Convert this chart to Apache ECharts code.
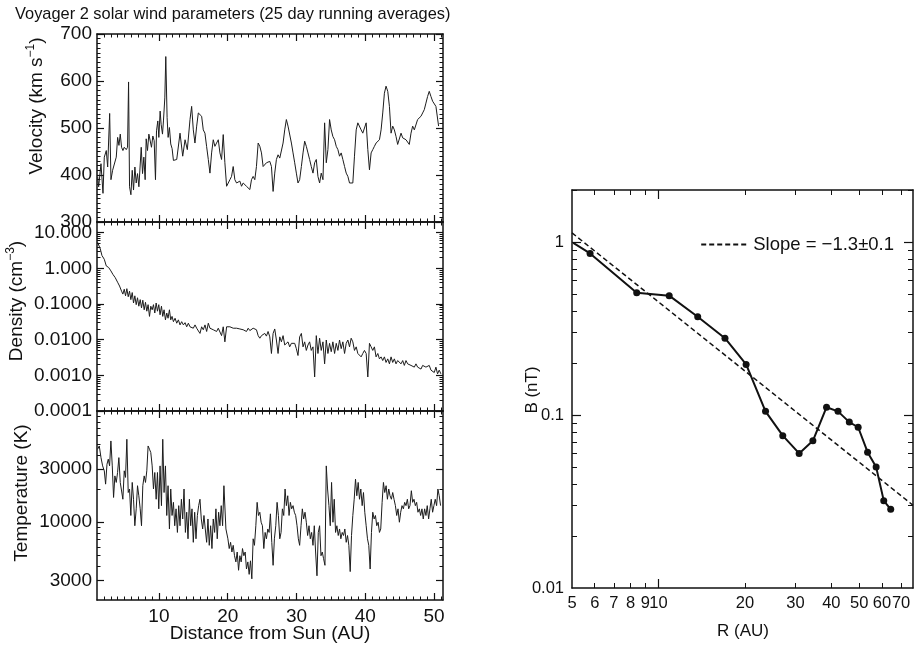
<!DOCTYPE html>
<html>
<head>
<meta charset="utf-8">
<title>Voyager 2 solar wind parameters</title>
<script src="https://cdn.jsdelivr.net/npm/echarts@6/dist/echarts.min.js"></script>
<style>
  html, body { margin: 0; padding: 0; background: #fff; }
  #main { width: 921px; height: 650px; }
</style>
</head>
<body>
<div id="main"></div>
<script>
// velocity, km/s, against distance (AU)
var velDist = [1.10,1.24,1.58,1.87,2.06,2.35,2.55,2.84,3.03,3.27,
  3.51,3.80,4.00,4.19,4.38,4.57,4.77,4.96,5.25,5.44,
  5.59,5.73,5.93,6.12,6.31,6.51,6.70,6.89,7.09,7.28,
  7.43,7.62,7.81,8.00,8.15,8.34,8.54,8.73,8.92,9.12,
  9.31,9.50,9.65,9.84,9.99,10.18,10.32,10.52,10.66,10.86,
  11.00,11.19,11.34,11.53,11.72,11.92,12.11,
  12.59,13.07,13.46,13.80,14.13,14.52,14.76,15.00,15.24,15.49,
  15.73,15.97,16.21,16.45,16.69,16.93,17.18,17.42,17.66,17.90,
  18.14,18.38,18.63,18.87,
  19.11,19.35,19.59,19.84,20.08,20.32,20.56,20.80,21.04,21.29,
  21.53,21.77,22.01,22.25,22.49,22.73,22.98,23.22,23.46,23.70,
  23.94,24.18,24.43,24.67,24.91,25.15,25.39,25.63,25.87,26.12,
  26.36,26.60,26.84,27.08,27.32,27.57,27.81,28.05,28.29,28.53,
  28.77,29.01,29.26,29.50,29.74,29.98,30.22,30.46,30.71,30.95,
  31.19,31.43,31.67,31.91,32.15,32.40,32.64,32.88,33.12,33.36,
  33.60,33.85,34.09,34.33,34.57,34.81,35.05,35.29,35.54,35.78,
  36.02,36.26,36.50,36.74,36.99,37.23,37.47,37.71,37.95,38.19,
  38.43,38.68,38.92,39.16,39.40,39.64,39.88,40.13,40.37,40.61,
  40.85,41.09,41.33,41.57,41.82,42.06,42.30,42.54,42.78,43.02,
  43.27,43.51,43.75,43.99,44.23,44.47,44.71,44.96,45.20,45.44,
  45.68,45.92,46.16,46.40,46.65,46.89,47.13,47.37,47.61,47.86,
  48.10,48.34,48.58,48.82,49.06,49.30,49.55,49.79,50.03,50.27,
  50.51,50.66];
var velKms = [396,375,424,361,438,452,417,531,390,410,
  407,438,480,463,487,459,452,459,454,459,
  598,375,358,410,368,417,383,403,375,375,
  459,403,438,390,477,452,487,483,459,483,
  473,390,494,515,480,536,508,487,515,564,
  652,522,480,501,466,456,431,
  433,489,440,475,454,518,546,496,468,504,
  532,535,525,496,489,461,433,404,447,475,
  461,468,475,447,
  433,486,426,376,379,390,397,418,390,383,
  379,387,376,383,379,376,372,369,390,397,
  390,418,468,461,447,418,418,426,422,429,
  418,365,404,433,443,436,440,468,496,518,
  504,500,468,447,426,404,383,390,418,447,
  472,461,447,433,418,404,426,433,397,383,
  404,390,511,426,454,518,496,482,475,461,
  454,440,447,433,418,404,397,383,379,383,
  440,496,511,511,496,489,489,511,454,411,
  447,454,461,468,465,475,496,532,574,589,
  578,546,489,504,496,482,465,468,489,479,
  482,475,479,465,489,504,496,500,518,521,
  525,532,539,553,567,578,567,557,553,546,
  546,504];

// density, cm^-3
var denDist = [1.09,1.48,1.72,2.06,2.35,2.69,3.02,3.31,3.65,3.99,4.28,4.57,
  4.76,4.96,5.15,5.34,5.54,5.73,5.92,6.12,6.31,6.50,
  6.70,6.89,7.08,7.28,7.47,7.66,7.86,8.05,8.24,8.43,
  8.63,8.82,9.02,9.21,9.40,9.60,9.79,9.98,10.17,10.37,
  10.56,10.75,10.95,11.14,11.33,11.53,11.72,11.91,12.11,
  12.35,12.59,12.83,13.07,13.31,13.56,13.80,14.04,14.28,14.52,
  14.76,15.00,15.25,15.49,15.73,15.97,16.21,16.45,16.70,16.94,
  17.18,17.42,17.66,17.90,18.15,18.39,18.63,
  18.87,
  19.11,19.35,19.59,19.84,20.08,20.32,20.56,20.80,21.04,21.29,
  21.53,21.77,22.01,22.25,22.49,22.73,22.98,23.22,23.46,23.70,
  23.94,24.18,24.43,24.67,24.91,25.15,25.39,25.63,25.87,26.12,
  26.36,26.60,26.84,27.08,27.32,27.57,27.81,28.05,28.29,28.53,
  28.77,29.01,29.26,29.50,29.74,29.98,30.22,30.46,30.71,30.95,
  31.19,31.43,31.67,31.91,32.15,32.40,32.64,32.88,33.12,33.36,
  33.60,33.85,34.09,34.33,34.57,34.81,35.05,35.29,35.54,35.78,
  36.02,36.26,36.50,36.74,36.99,37.23,37.47,37.71,37.95,38.19,
  38.43,38.68,38.92,39.16,39.40,39.64,39.88,40.13,40.37,40.61,
  40.85,41.09,41.33,41.57,41.82,42.06,42.30,42.54,42.78,43.02,
  43.27,43.51,43.75,43.99,44.23,44.47,44.71,44.96,45.20,45.44,
  45.68,45.92,46.16,46.40,46.65,46.89,47.13,47.37,47.61,47.86,
  48.10,48.34,48.58,48.82,49.06,49.30,49.55,49.79,50.03,50.27,
  50.51,50.75,51.00];
var denCm3 = [5.4,3.5,2.3,1.8,1.17,1.06,0.85,0.68,0.55,0.41,0.32,0.23,
  0.19,0.26,0.17,0.27,0.16,0.23,0.133,0.21,0.107,0.17,
  0.096,0.15,0.087,0.133,0.078,0.128,0.069,0.112,0.063,0.096,
  0.045,0.087,0.069,0.096,0.056,0.107,0.063,0.096,0.05,0.087,
  0.045,0.069,0.036,0.056,0.04,0.069,0.036,0.045,0.032,
  0.04,0.029,0.036,0.026,0.032,0.026,0.030,0.023,0.029,0.023,
  0.026,0.021,0.026,0.021,0.023,0.015,0.023,0.019,0.026,0.017,
  0.029,0.021,0.023,0.019,0.021,0.017,0.021,
  0.019,0.013,0.023,0.0087,0.023,0.026,0.023,0.026,0.021,0.023,
  0.021,0.023,0.020,0.022,0.019,0.021,0.017,0.021,0.018,0.020,
  0.021,0.023,0.019,0.013,0.011,0.013,0.012,0.015,0.0126,0.017,
  0.012,0.0041,0.015,0.020,0.0098,0.0041,0.012,0.0087,0.013,0.0071,
  0.0063,0.0087,0.0063,0.0079,0.0071,0.0079,0.0056,0.0036,0.012,0.015,
  0.0063,0.0087,0.005,0.0071,0.0087,0.005,0.0063,0.0009,0.013,0.0041,
  0.011,0.005,0.0087,0.0021,0.0098,0.0041,0.0079,0.0046,0.0087,0.0041,
  0.0079,0.005,0.0098,0.0056,0.0087,0.0041,0.0079,0.0098,0.0063,0.011,
  0.0087,0.005,0.0063,0.0041,0.0046,0.0033,0.0041,0.005,0.0041,0.0009,
  0.0079,0.0063,0.005,0.0063,0.0033,0.0041,0.0029,0.0033,0.0026,0.0033,
  0.0023,0.0029,0.0021,0.0033,0.0023,0.0029,0.0021,0.0026,0.0029,0.0021,
  0.0026,0.0019,0.0026,0.0021,0.0023,0.0019,0.0021,0.0017,0.0021,0.0017,
  0.0019,0.0015,0.0019,0.0021,0.0017,0.0015,0.0019,0.0014,0.0015,0.0012,
  0.0017,0.0011,0.0014,0.0011];

// temperature, K
var tempDist = [1.09,1.33,1.58,1.82,2.06,
  2.25,2.45,2.64,2.83,3.02,3.22,3.41,3.60,3.80,3.99,
  4.18,4.38,4.57,4.76,4.96,5.15,5.34,5.54,5.73,5.92,
  6.12,6.31,6.50,6.70,6.89,7.08,7.28,7.47,7.66,7.86,
  8.05,8.24,8.43,8.63,8.82,9.02,9.21,9.40,9.60,9.79,
  9.98,10.17,10.37,10.56,10.75,10.95,11.14,11.33,11.53,11.72,
  11.91,12.11,12.30,12.49,12.69,12.88,13.07,13.27,13.46,13.65,
  13.85,14.04,14.23,14.43,14.62,14.81,15.00,15.20,15.39,15.59,
  15.78,15.97,16.16,16.36,16.55,16.74,16.94,17.13,17.32,17.52,
  17.71,17.90,18.10,18.29,18.48,18.68,18.87,19.06,19.26,
  19.45,19.74,20.03,
  20.22,20.42,20.61,20.80,20.99,21.19,21.38,21.58,21.77,21.96,
  22.15,22.35,22.54,22.73,22.93,23.12,23.31,23.51,23.70,23.89,
  24.09,24.28,24.47,24.67,24.86,25.05,25.25,25.44,25.63,25.83,
  26.02,26.21,26.41,26.60,26.79,26.99,27.18,27.37,27.57,27.76,
  27.95,28.15,28.34,28.53,28.73,28.92,29.11,29.30,29.50,29.69,
  29.88,30.08,30.27,30.46,30.66,30.85,31.04,31.24,31.43,31.62,
  31.82,32.01,32.20,32.40,32.59,32.78,32.98,33.17,33.36,33.56,
  33.75,33.94,34.14,34.33,34.52,34.72,34.91,35.10,35.30,35.49,
  35.68,35.87,36.07,36.26,36.45,36.65,36.84,37.03,37.23,37.42,
  37.61,37.81,38.00,38.19,38.39,38.58,38.77,38.97,39.16,39.35,
  39.55,39.74,39.93,40.13,40.32,40.51,40.71,40.90,41.09,41.29,
  41.48,41.67,41.87,42.06,42.25,42.45,42.64,42.83,43.03,43.22,
  43.41,43.60,43.80,43.99,44.18,44.38,44.57,44.76,44.96,45.15,
  45.34,45.54,45.73,45.92,46.12,46.31,46.50,46.70,46.89,47.08,
  47.28,47.47,47.66,47.86,48.05,48.24,48.43,48.63,48.82,49.01,
  49.21,49.40,49.59,49.79,49.98,50.17,50.37,50.56,50.75,50.95];
var tempK = [45300,48500,38100,32100,29000,
  22000,33200,36900,32100,53800,32100,16700,26100,22800,28000,
  38100,22800,23600,16100,29000,25300,55700,18500,19900,11500,
  22800,16100,9300,13200,21300,17300,13200,9300,21300,26100,
  22800,29000,48500,45300,42300,32100,19900,28000,16100,28000,
  13200,32100,14100,55700,18500,32100,11500,21300,8700,19900,
  11500,15100,9300,13200,8100,14100,9300,16100,10700,19900,
  8100,12300,7100,16100,9300,13200,6600,12300,7100,11500,
  14100,16100,10700,8700,11500,8700,6600,10700,6200,9300,
  5800,10700,8100,13200,7100,12300,9300,14100,9300,
  21300,8700,7100,
  5800,6600,5400,6200,5000,4400,5400,3700,5000,4400,
  5800,5000,5400,3800,4400,3400,4500,3100,7100,6200,
  9300,15100,11500,12300,10000,9300,5800,8100,7100,8700,
  8100,11900,6600,4100,7100,9300,15100,11500,7100,8100,
  13200,11500,19900,14100,17300,11500,15100,13200,14100,12300,
  11500,9300,7100,6200,9300,13200,10700,12300,10000,7600,
  9300,7100,8100,6200,9300,5400,3300,8100,9300,5000,
  5400,4700,4100,32100,19900,14100,9300,22800,10000,16100,
  8100,9300,7600,8700,7100,8100,7600,8700,6600,7600,
  6200,3600,7600,11500,16100,24400,17300,22800,16100,19900,
  14100,18500,12300,9300,7100,6200,3800,8100,12300,10700,
  11500,9300,10000,8100,8700,15100,22800,18500,21300,16100,
  19900,17300,16100,18500,16100,14100,11500,13200,10000,12300,
  14100,13200,15100,14100,16100,13200,14100,19200,15100,16100,
  14100,15100,12300,13200,11500,13200,10700,13200,11500,14100,
  10700,13200,16100,12300,14100,16100,14100,19900,17300,14100];

// magnetic field B (nT) against R (AU), and the power-law fit
var fieldR = [5.05,5.78,8.4,10.9,13.7,17.05,20.2,23.6,27.1,30.9,34.5,38.5,42.2,46.2,49.6,53.5,57.3,60.9,64.4];
var fieldB = [0.99,0.86,0.51,0.49,0.37,0.278,0.196,0.105,0.076,0.060,0.071,0.111,0.105,0.091,0.085,0.061,0.050,0.032,0.0285];
var fitR = [5, 77];
var fitB = [1.13, 0.0301];

// tick labels
var distLabels = [10, 20, 30, 40, 50];
var denLabels = [0.0001, 0.001, 0.01, 0.1, 1, 10];
var tempLabels = [3000, 10000, 30000];
var rLabels = [5, 6, 7, 8, 9, 10, 20, 30, 40, 50, 60, 70];
var bLabels = [0.01, 0.1, 1];
var fitName = 'Slope = \u22121.3\u00b10.1';

var FONT = '"Liberation Sans", Arial, Helvetica, sans-serif';
var INK = '#111';

//小刻度
function logMinor(lo, hi) {
    var out = [];
    for (var e = -5; e <= 5; e++) {
        for (var k = 2; k <= 9; k++) {
            var v = +(k * Math.pow(10, e)).toPrecision(4);
            if (v > lo && v < hi) out.push(v);
        }
    }
    return out;
}
var distMinor = [];
for (var d = 2; d <= 51; d++) { if (d % 10 !== 0) distMinor.push(d); }

function pairs(xs, ys) {
    var out = [];
    for (var i = 0; i < xs.length; i++) out.push([xs[i], ys[i]]);
    return out;
}

var xAxes = [], yAxes = [];
// one side of a frame: main axis (line, long ticks, labels) + optional axis only for short ticks
function side(list, g, pos, type, min, max, major, minor, label) {
    var main = {
        type: type, gridIndex: g, position: pos, min: min, max: max,
        splitLine: { show: false },
        axisLine: { show: true, onZero: false, lineStyle: { color: INK, width: 1.5 } },
        axisTick: { show: true, inside: true, length: major.len, lineStyle: { color: INK, width: 1.2 } },
        axisLabel: label ? Object.assign({ show: true, color: INK, fontFamily: FONT }, label) : { show: false }
    };
    if (type === 'log') main.logBase = 10;
    if (major.values) main.axisTick.customValues = major.values;
    if (major.interval) main.interval = major.interval;
    if (major.minorSplit) main.minorTick = { show: true, splitNumber: major.minorSplit, length: 3.5, lineStyle: { color: INK, width: 1 } };
    list.push(main);
    var idx = list.length - 1;
    if (minor) {
        var m = {
            type: type, gridIndex: g, position: pos, min: min, max: max,
            splitLine: { show: false },
            axisLine: { show: false, onZero: false },
            axisTick: { show: true, inside: true, length: minor.len, customValues: minor.values, lineStyle: { color: INK, width: 1 } },
            axisLabel: { show: false }
        };
        if (type === 'log') m.logBase = 10;
        list.push(m);
    }
    return idx;
}

var grids = [
    { left: 97, top: 34, width: 346, height: 188 },
    { left: 97, top: 222, width: 346, height: 189 },
    { left: 97, top: 411, width: 346, height: 189 },
    { left: 572, top: 190, width: 341, height: 398 }
];

var leftX = [];
for (var g = 0; g < 3; g++) {
    var lab = g === 2 ? { customValues: distLabels, fontSize: 19, margin: 7 } : null;
    leftX.push(side(xAxes, g, 'bottom', 'value', 1, 51.3, { len: 7, values: distLabels }, { len: 3.5, values: distMinor }, lab));
    side(xAxes, g, 'top', 'value', 1, 51.3, { len: 7, values: distLabels }, { len: 3.5, values: distMinor }, null);
}

var velY = side(yAxes, 0, 'left', 'value', 300, 700, { len: 7, interval: 100, minorSplit: 10 }, null, { fontSize: 19, margin: 5 });
side(yAxes, 0, 'right', 'value', 300, 700, { len: 7, interval: 100, minorSplit: 10 }, null, null);

var denMinor = logMinor(0.0001, 20);
var denFmt = function (v) { return v >= 1 ? v.toFixed(3) : v.toFixed(4); };
var denY = side(yAxes, 1, 'left', 'log', 0.0001, 20, { len: 7, values: denLabels }, { len: 3.5, values: denMinor },
    { customValues: denLabels, formatter: denFmt, fontSize: 19, margin: 5 });
side(yAxes, 1, 'right', 'log', 0.0001, 20, { len: 7, values: denLabels }, { len: 3.5, values: denMinor }, null);

var tempMinor = logMinor(2000, 100000).filter(function (v) { return tempLabels.indexOf(v) < 0; });
var tempY = side(yAxes, 2, 'left', 'log', 2000, 100000, { len: 7, values: tempLabels }, { len: 3.5, values: tempMinor },
    { customValues: tempLabels, formatter: function (v) { return String(Math.round(v)); }, fontSize: 19, margin: 5 });
side(yAxes, 2, 'right', 'log', 2000, 100000, { len: 7, values: tempLabels }, { len: 3.5, values: tempMinor }, null);

var rMinor = [6, 7, 8, 9, 20, 30, 40, 50, 60, 70];
var fieldX = side(xAxes, 3, 'bottom', 'log', 5, 77, { len: 9, values: [10] }, { len: 5, values: rMinor },
    { customValues: rLabels, formatter: function (v) { return String(Math.round(v)); }, fontSize: 16.5, margin: 7 });
side(xAxes, 3, 'top', 'log', 5, 77, { len: 9, values: [10] }, { len: 5, values: rMinor }, null);

var bMinor = logMinor(0.01, 2.01);
var fieldY = side(yAxes, 3, 'left', 'log', 0.01, 2, { len: 9, values: [0.1, 1] }, { len: 5, values: bMinor },
    { customValues: bLabels, formatter: function (v) { return String(+v.toPrecision(3)); }, fontSize: 16.5, margin: 8 });
side(yAxes, 3, 'right', 'log', 0.01, 2, { len: 9, values: [0.1, 1] }, { len: 5, values: bMinor }, null);

var fieldData = fieldR.map(function (r, i) {
    return { value: [r, fieldB[i]], symbol: i === 0 ? 'none' : 'circle' };
});

var thin = { color: '#1c1c1c', width: 1 };
var titleRich = {
    a: { fontSize: 19, fontFamily: FONT, fill: INK, color: INK, lineHeight: 24 },
    s: { fontSize: 12, fontFamily: FONT, fill: INK, color: INK, lineHeight: 12, verticalAlign: 'top' }
};

var chart = echarts.init(document.getElementById('main'));
var option = {
    animation: false,
    color: [INK],
    textStyle: { fontFamily: FONT, color: INK },
    title: {
        text: 'Voyager 2 solar wind parameters (25 day running averages)',
        left: 10, top: 1,
        textStyle: { fontSize: 16.4, fontWeight: 'normal', color: INK, fontFamily: FONT }
    },
    legend: {
        data: [fitName],
        right: 27, top: 235, padding: 0,
        itemWidth: 47, itemHeight: 12,
        itemStyle: { opacity: 0 },
        textStyle: { fontSize: 18.5, color: INK, fontFamily: FONT }
    },
    grid: grids,
    xAxis: xAxes,
    yAxis: yAxes,
    graphic: [
        { type: 'text', x: 37, y: 106, rotation: Math.PI / 2,
          style: { text: '{a|Velocity (km s}{s|\u22121}{a|)}', rich: titleRich, align: 'center', verticalAlign: 'middle' } },
        { type: 'text', x: 17, y: 301, rotation: Math.PI / 2,
          style: { text: '{a|Density (cm}{s|\u22123}{a|)}', rich: titleRich, align: 'center', verticalAlign: 'middle' } },
        { type: 'text', x: 22, y: 493, rotation: Math.PI / 2,
          style: { text: 'Temperature (K)', fontSize: 19, fontFamily: FONT, fill: INK, align: 'center', verticalAlign: 'middle' } },
        { type: 'text', x: 270, y: 634,
          style: { text: 'Distance from Sun (AU)', fontSize: 19, fontFamily: FONT, fill: INK, align: 'center', verticalAlign: 'middle' } },
        { type: 'text', x: 743, y: 631,
          style: { text: 'R (AU)', fontSize: 17, fontFamily: FONT, fill: INK, align: 'center', verticalAlign: 'middle' } },
        { type: 'text', x: 532, y: 390, rotation: Math.PI / 2,
          style: { text: 'B (nT)', fontSize: 17, fontFamily: FONT, fill: INK, align: 'center', verticalAlign: 'middle' } }
    ],
    series: [
        { type: 'line', name: 'Velocity', xAxisIndex: leftX[0], yAxisIndex: velY, data: pairs(velDist, velKms),
          symbol: 'none', lineStyle: thin },
        { type: 'line', name: 'Density', xAxisIndex: leftX[1], yAxisIndex: denY, data: pairs(denDist, denCm3),
          symbol: 'none', lineStyle: thin },
        { type: 'line', name: 'Temperature', xAxisIndex: leftX[2], yAxisIndex: tempY, data: pairs(tempDist, tempK),
          symbol: 'none', lineStyle: thin },
        { type: 'line', name: 'B', xAxisIndex: fieldX, yAxisIndex: fieldY, data: fieldData,
          symbol: 'circle', symbolSize: 7, itemStyle: { color: INK }, lineStyle: { color: INK, width: 2 } },
        { type: 'line', name: fitName, xAxisIndex: fieldX, yAxisIndex: fieldY, data: pairs(fitR, fitB),
          symbol: 'none', itemStyle: { color: INK }, lineStyle: { color: INK, width: 1.5, type: [5, 3] } }
    ]
};
chart.setOption(option);
</script>
</body>
</html>
